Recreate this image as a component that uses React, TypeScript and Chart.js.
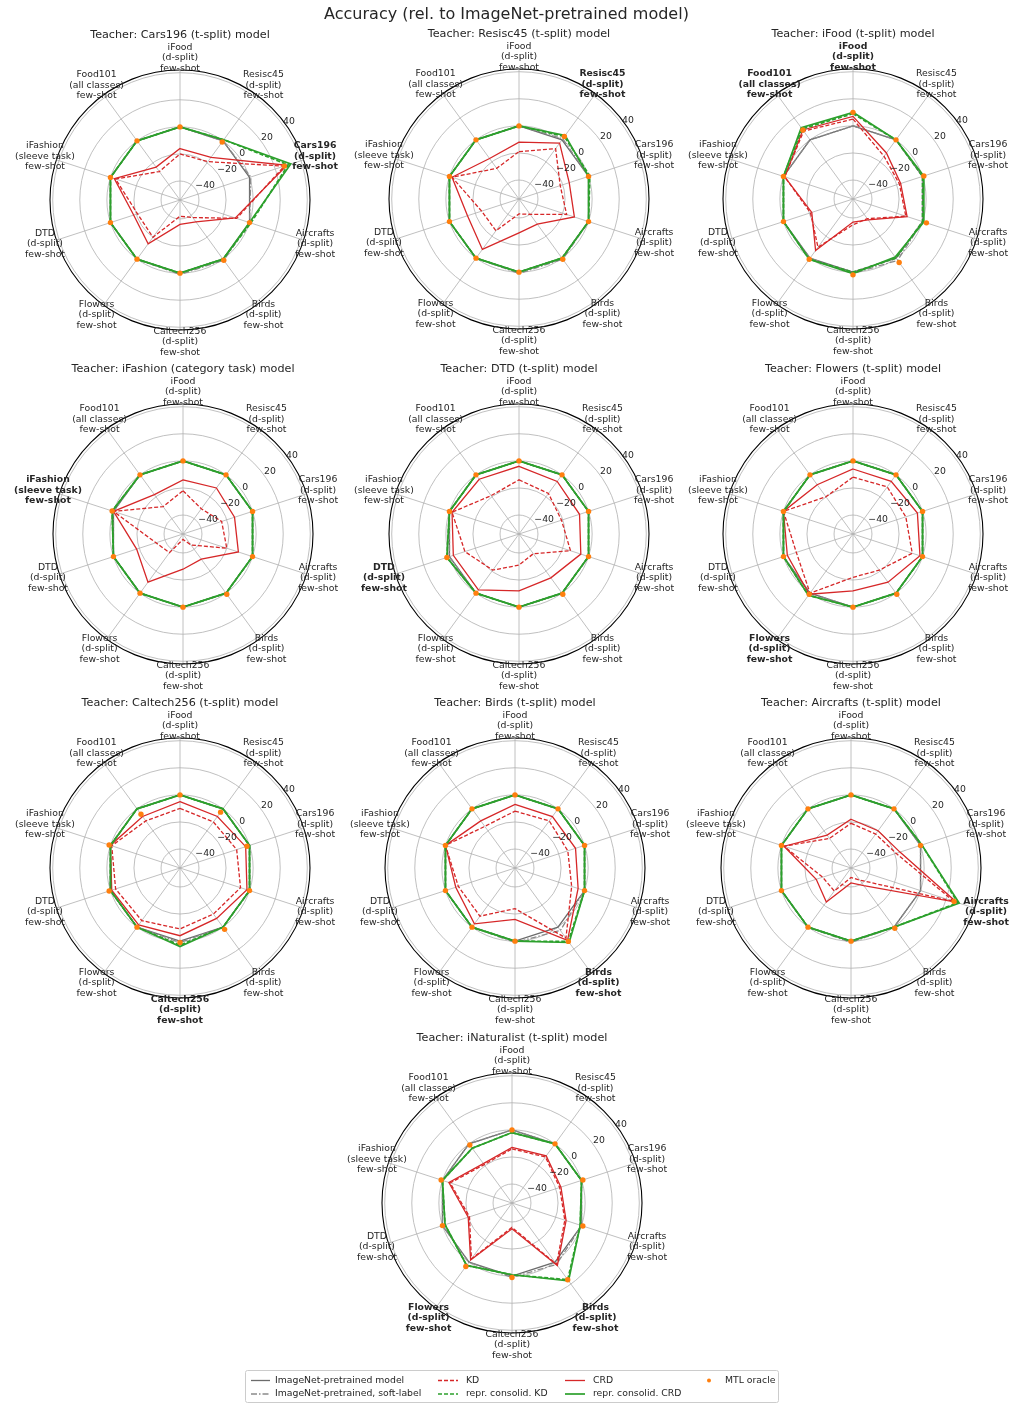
import React, { useEffect, useRef } from 'react';
import { Chart, registerables } from 'chart.js';

Chart.register(...registerables);

// ---------------- DATA ----------------
const AXIS_LABELS: string[][] = [
  ['iFood', '(d-split)', 'few-shot'],
  ['Resisc45', '(d-split)', 'few-shot'],
  ['Cars196', '(d-split)', 'few-shot'],
  ['Aircrafts', '(d-split)', 'few-shot'],
  ['Birds', '(d-split)', 'few-shot'],
  ['Caltech256', '(d-split)', 'few-shot'],
  ['Flowers', '(d-split)', 'few-shot'],
  ['DTD', '(d-split)', 'few-shot'],
  ['iFashion', '(sleeve task)', 'few-shot'],
  ['Food101', '(all classes)', 'few-shot'],
];

const TEACHERS: string[] = [
  'Cars196 (t-split)',
  'Resisc45 (t-split)',
  'iFood (t-split)',
  'iFashion (category task)',
  'DTD (t-split)',
  'Flowers (t-split)',
  'Caltech256 (t-split)',
  'Birds (t-split)',
  'Aircrafts (t-split)',
  'iNaturalist (t-split)',
];

// indices of axis labels shown in bold for each teacher
const BOLD_AXES: number[][] = [[2], [1], [0, 9], [8], [7], [6], [5], [4], [3], [4, 6]];

const TICK_VALUES: number[] = [-40, -20, 0, 20, 40];
const R_MIN = -54;
const R_MAX = 42;

// rows = teachers, columns = axes (iFood, Resisc45, Cars196, Aircrafts, Birds, Caltech256, Flowers, DTD, iFashion, Food101)
const IMAGENET: number[][] = [
  [0, 0, 0, 0, 0, 0, 0, 0, 0, 0],
  [0, 0, 0, 0, 0, 0, 0, 0, 0, 0],
  [0, 0, 0, 0, 0, 0, 0, 0, 0, 0],
  [0, 0, 0, 0, 0, 0, 0, 0, 0, 0],
  [0, 0, 0, 0, 0, 0, 0, 0, 0, 0],
  [0, 0, 0, 0, 0, 0, 0, 0, 0, 0],
  [0, 0, 0, 0, 0, 0, 0, 0, 0, 0],
  [0, 0, 0, 0, 0, 0, 0, 0, 0, 0],
  [0, 0, 0, 0, 0, 0, 0, 0, 0, 0],
  [0, 0, 0, 0, 0, 0, 0, 0, 0, 0],
];

const SOFT_LABEL: number[][] = [
  [0, 0, 1, 0, 1, 1, 0, 0, 0, 0],
  [0, 1, 0, 0, 1, 1, 0, 0, 0, 0],
  [0, 0, 0, 0, 2, 1, 0, 0, 0, 0],
  [0, 0, 0, 0, 0, 0, 0, 0, 0, 0],
  [0, 0, 0, 0, 0, 0, 0, 0, 0, 0],
  [0, 0, 0, 0, 0, 0, 0, 0, 0, 0],
  [0, 0, 0, 0, 0, 1, 0, 0, 0, 0],
  [0, 0, 0, 0, 3, 1, 0, 0, 0, 0],
  [0, 0, 0, 0, 0, 1, 0, 0, 0, 0],
  [0, 0, 0, 0, 2, 1, 0, 0, 0, 0],
];

const KD: number[][] = [
  [-20, -19, 27, -10, -38, -42, -20, -21, -4, -28],
  [-19, -8, -22, -17, -40, -43, -25, -25, -2, -26],
  [5, -15, -18, -13, -36, -35, -10, -21, -1, 8],
  [-22, -31, -24, -20, -44, -50, -37, -33, 0, -29],
  [-14, -17, -21, -14, -36, -31, -21, -12, -2, -19],
  [-12, -11, -13, -8, -21, -22, 0, -10, 0, -20],
  [-10, -12, -10, -7, -12, -9, -6, -4, -1, -11],
  [-12, -11, -13, -10, 10, -24, -10, -10, 0, -16],
  [-21, -23, -19, 26, -43, -47, -33, -32, -2, -27],
  [-14, -12, -17, -13, 2, -36, -3, -21, -6, -19],
];

const CRD: number[][] = [
  [-16, -15, 29, -11, -34, -36, -14, -18, -3, -24],
  [-12, -3, -15, -11, -31, -29, -8, -14, -2, -17],
  [7, -12, -17, -12, -35, -37, -7, -22, -1, 9],
  [-14, -12, -14, -11, -31, -28, -10, -18, 0, -18],
  [-4, -6, -7, -6, -14, -12, -3, -3, -2, -4],
  [-6, -6, -4, -2, -10, -12, 1, -3, 0, -9],
  [-5, -7, -3, -2, -8, -4, -2, -1, 0, -7],
  [-7, -7, -7, -5, 12, -16, -3, -8, 0, -11],
  [-18, -20, -16, 28, -38, -43, -23, -27, -2, -24],
  [-13, -11, -16, -12, 3, -35, -2, -20, -5, -18],
];

const REPR_KD: number[][] = [
  [0, 1, 30, 1, 0, 0, 0, 0, 0, 0],
  [0, 3, 1, 0, 0, 0, 0, 0, 0, 0],
  [9, 0, 0, 0, 0, 0, 1, 0, 0, 10],
  [0, 0, 0, 0, 0, 0, 0, 0, 1, 0],
  [0, 0, 0, 0, 0, 0, 0, 2, 0, 0],
  [0, 0, 0, 0, 0, 0, 2, 0, 0, 0],
  [0, 0, 0, 0, 0, 3, 0, 0, 0, 0],
  [0, 0, 0, 0, 13, 0, 0, 0, 0, 0],
  [0, 0, 1, 29, 0, 0, 0, 0, 0, 0],
  [-2, 0, 0, -1, 16, -1, 3, -2, 0, -4],
];

const REPR_CRD: number[][] = [
  [0, 1, 32, 0, 0, 0, 0, 0, 0, 0],
  [0, 4, 0, 0, 0, 0, 0, 0, 0, 0],
  [10, 0, 1, 1, -1, 1, 1, 0, 0, 11],
  [0, 0, 0, 0, 0, 0, 0, 0, 1, 0],
  [0, 0, 0, 0, 0, 0, 0, 2, 0, 0],
  [0, 0, 0, 0, 0, 0, 2, 0, 0, 0],
  [0, 0, 0, 0, 0, 4, 0, 0, 0, 0],
  [0, 0, 0, 0, 14, 0, 0, 0, 0, 0],
  [0, 0, 1, 30, 0, 0, 0, 0, 0, 0],
  [-2, 0, 0, -1, 17, -1, 3, -2, 0, -4],
];

const MTL_ORACLE: number[][] = [
  [0, -1, 27, 0, 1, 0, 0, 0, 0, 0],
  [0, 3, 0, 0, 1, 0, 0, 0, 0, 0],
  [10, 0, 1, 3, 4, 2, 1, 0, 0, 9],
  [0, 0, 0, 0, 1, 0, 0, 0, 1, 0],
  [0, 0, 0, 0, 1, 0, 0, 2, 0, 0],
  [0, 0, 0, 0, 1, 0, 1, 0, 0, 0],
  [0, -3, -2, 0, 2, 1, 0, 1, 1, -5],
  [0, 0, 0, 0, 13, 0, 0, 0, 0, 0],
  [0, 0, 0, 26, 1, 0, 0, 0, 0, 0],
  [0, 0, 1, 1, 16, 1, 4, 0, 1, -1],
];

// ---------------- LAYOUT / STYLE ----------------
const W = 1011;
const H = 1403;
const RADIUS = 130;
const LABEL_DIST = 142;
const CENTERS: number[][] = [
  [180, 200], [519, 199], [853, 199],
  [183, 534], [519, 534], [853, 534],
  [180, 868], [515, 868], [851, 868],
  [512, 1203],
];
const FONT = '"DejaVu Sans", "Liberation Sans", sans-serif';
const TEXT = '#262626';

type Series = {
  label: string; rows: number[][]; color: string; dash: number[]; width: number; order: number; points?: boolean;
};

const SERIES: Series[] = [
  { label: 'ImageNet-pretrained model', rows: IMAGENET, color: '#6b6b6b', dash: [], width: 1.3, order: 6 },
  { label: 'ImageNet-pretrained, soft-label', rows: SOFT_LABEL, color: '#8a8a8a', dash: [6, 2, 1.5, 2], width: 1.3, order: 5 },
  { label: 'KD', rows: KD, color: '#d62728', dash: [4, 2], width: 1.3, order: 4 },
  { label: 'CRD', rows: CRD, color: '#d62728', dash: [], width: 1.3, order: 3 },
  { label: 'repr. consolid. KD', rows: REPR_KD, color: '#2ca02c', dash: [4, 2], width: 1.7, order: 2 },
  { label: 'repr. consolid. CRD', rows: REPR_CRD, color: '#2ca02c', dash: [], width: 1.7, order: 1 },
  { label: 'MTL oracle', rows: MTL_ORACLE, color: '#ff7f0e', dash: [], width: 0, order: 0, points: true },
];

// legend columns: series indices per row, handle x0, x1, text x
const LEGEND_COLS = [
  { items: [0, 1], hx0: 251, hx1: 270, tx: 275 },
  { items: [2, 4], hx0: 438, hx1: 458, tx: 466 },
  { items: [3, 5], hx0: 565, hx1: 585, tx: 593 },
  { items: [6], hx0: 709, hx1: 709, tx: 725 },
];
const LEGEND_ROWS_Y = [1380.5, 1394];
const LEGEND_BOX = { x: 245, y: 1370, w: 533, h: 32 };

const textPlugin = {
  id: 'customText',
  afterDraw(chart: any) {
    const ctx: CanvasRenderingContext2D = chart.ctx;
    ctx.save();
    ctx.fillStyle = TEXT;
    // main title
    ctx.font = `16px ${FONT}`;
    ctx.textAlign = 'center';
    ctx.textBaseline = 'middle';
    ctx.fillText('Accuracy (rel. to ImageNet-pretrained model)', W / 2 + 1, 15);

    TEACHERS.forEach((teacher, t) => {
      const scale = chart.scales['r' + t];
      const cx = scale.xCenter;
      const cy = scale.yCenter;
      // subplot title
      ctx.font = `11.2px ${FONT}`;
      ctx.textAlign = 'center';
      ctx.textBaseline = 'middle';
      ctx.fillStyle = TEXT;
      ctx.fillText(`Teacher: ${teacher} model`, cx, cy - 164.5);
      // point labels
      AXIS_LABELS.forEach((lines, i) => {
        const ang = (-90 + 36 * i) * Math.PI / 180;
        const px = cx + Math.cos(ang) * LABEL_DIST;
        const py = cy + Math.sin(ang) * LABEL_DIST;
        const bold = BOLD_AXES[t].includes(i);
        ctx.font = `${bold ? 'bold ' : ''}9.3px ${FONT}`;
        lines.forEach((ln, j) => {
          ctx.fillText(ln, px, py + (j - 1) * 10.5);
        });
      });
      // radial tick labels
      ctx.font = `9.3px ${FONT}`;
      ctx.textAlign = 'left';
      ctx.textBaseline = 'bottom';
      const ta = 36 * Math.PI / 180;
      TICK_VALUES.forEach((v) => {
        const r = scale.getDistanceFromCenterForValue(v);
        const x = cx + Math.cos(ta) * r;
        const y = cy - Math.sin(ta) * r;
        const s = v < 0 ? '\u2212' + Math.abs(v) : String(v);
        ctx.fillText(s, x, y + 1);
      });
    });

    // legend
    const b = LEGEND_BOX;
    ctx.beginPath();
    if ((ctx as any).roundRect) (ctx as any).roundRect(b.x + 0.5, b.y + 0.5, b.w, b.h, 2);
    else ctx.rect(b.x + 0.5, b.y + 0.5, b.w, b.h);
    ctx.fillStyle = 'rgba(255,255,255,0.8)';
    ctx.fill();
    ctx.strokeStyle = '#cccccc';
    ctx.lineWidth = 1;
    ctx.stroke();
    LEGEND_COLS.forEach((col) => {
      col.items.forEach((si, row) => {
        const s = SERIES[si];
        const y = LEGEND_ROWS_Y[row];
        if (s.points) {
          ctx.beginPath();
          ctx.arc(col.hx0, y, 2, 0, Math.PI * 2);
          ctx.fillStyle = s.color;
          ctx.fill();
        } else {
          ctx.beginPath();
          ctx.setLineDash(s.dash);
          ctx.strokeStyle = s.color;
          ctx.lineWidth = s.width;
          ctx.moveTo(col.hx0, y);
          ctx.lineTo(col.hx1, y);
          ctx.stroke();
          ctx.setLineDash([]);
        }
        ctx.fillStyle = TEXT;
        ctx.font = `9.3px ${FONT}`;
        ctx.textAlign = 'left';
        ctx.textBaseline = 'middle';
        ctx.fillText(s.label, col.tx, y);
      });
    });
    ctx.restore();
  },
};

export default function App() {
  const ref = useRef<HTMLCanvasElement | null>(null);

  useEffect(() => {
    if (!ref.current) return;
    const datasets: any[] = [];
    const scales: any = { r: { type: 'radialLinear', display: false } };

    TEACHERS.forEach((_, t) => {
      const [cx, cy] = CENTERS[t];
      scales['r' + t] = {
        type: 'radialLinear',
        axis: 'r',
        min: R_MIN,
        max: R_MAX,
        startAngle: 0,
        beginAtZero: false,
        afterBuildTicks: (s: any) => {
          s.ticks = [...TICK_VALUES, R_MAX].map((v) => ({ value: v }));
        },
        afterFit: (s: any) => {
          s.xCenter = cx;
          s.yCenter = cy;
          s.drawingArea = RADIUS;
        },
        ticks: { display: false },
        pointLabels: { display: false },
        grid: {
          circular: true,
          color: (c: any) => (c.tick && c.tick.value === R_MAX ? '#000000' : '#b0b0b0'),
          lineWidth: (c: any) => (c.tick && c.tick.value === R_MAX ? 1.1 : 0.8),
        },
        angleLines: { color: '#b0b0b0', lineWidth: 0.8 },
      };
      SERIES.forEach((s) => {
        if (s.points) {
          datasets.push({
            label: s.label,
            data: s.rows[t],
            rAxisID: 'r' + t,
            showLine: false,
            borderWidth: 0,
            borderColor: s.color,
            backgroundColor: s.color,
            pointRadius: 2.7,
            pointBorderWidth: 0,
            pointBackgroundColor: s.color,
            fill: false,
            order: s.order,
          });
        } else {
          datasets.push({
            label: s.label,
            data: s.rows[t],
            rAxisID: 'r' + t,
            borderColor: s.color,
            borderWidth: s.width,
            borderDash: s.dash,
            backgroundColor: 'transparent',
            pointRadius: 0,
            pointHoverRadius: 0,
            fill: false,
            order: s.order,
          });
        }
      });
    });

    const chart = new Chart(ref.current, {
      type: 'radar',
      data: { labels: AXIS_LABELS.map((l) => l.join(' ')), datasets },
      options: {
        responsive: false,
        animation: false,
        events: [],
        devicePixelRatio: 1,
        layout: { padding: 0 },
        elements: { line: { tension: 0 } },
        plugins: { legend: { display: false }, title: { display: false }, tooltip: { enabled: false } },
        scales,
      } as any,
      plugins: [textPlugin],
    });
    return () => chart.destroy();
  }, []);

  return (
    <div style={{ position: 'absolute', left: 0, top: 0, width: W, height: H, background: '#ffffff' }}>
      <canvas ref={ref} width={W} height={H} style={{ width: W, height: H, display: 'block' }} />
    </div>
  );
}
